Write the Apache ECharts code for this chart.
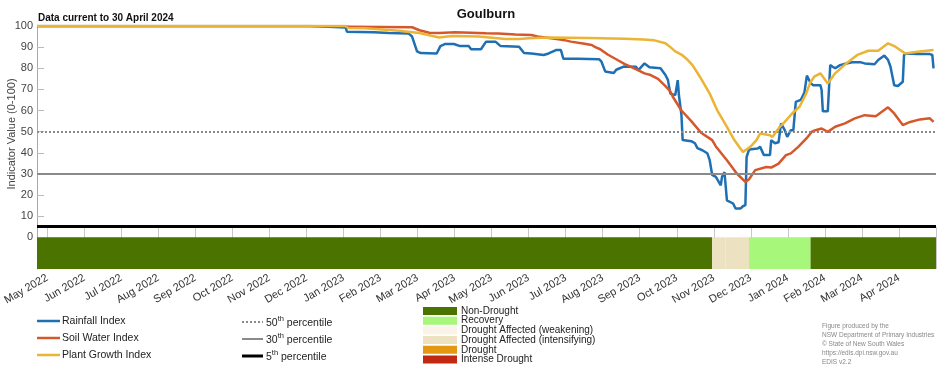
<!DOCTYPE html>
<html>
<head>
<meta charset="utf-8">
<script src="https://cdn.jsdelivr.net/npm/echarts@6/dist/echarts.min.js"></script>
<style>
html,body{margin:0;padding:0;background:#fff;}
#chart{width:952px;height:370px;}
</style>
</head>
<body>
<div id="chart"></div>
<script>
// ---------- DATA ----------
const chartTitle = 'Goulburn';
const subtitle = 'Data current to 30 April 2024';
const startDate = '2022-05-01';
const endDate = '2024-05-01';
const monthLabels = ['May 2022','Jun 2022','Jul 2022','Aug 2022','Sep 2022','Oct 2022','Nov 2022','Dec 2022',
  'Jan 2023','Feb 2023','Mar 2023','Apr 2023','May 2023','Jun 2023','Jul 2023','Aug 2023','Sep 2023','Oct 2023',
  'Nov 2023','Dec 2023','Jan 2024','Feb 2024','Mar 2024','Apr 2024',''];
const yTickLabels = [0,10,20,30,40,50,60,70,80,90,100];

const rainfallIndex = [
['2022-05-01',100],['2022-12-09',100],['2022-12-10',99.3],['2023-01-07',99.3],['2023-01-08',97.3],['2023-01-30',97],
['2023-02-11',96.7],['2023-02-27',96.5],['2023-03-02',95],['2023-03-06',88],['2023-03-09',87.2],['2023-03-22',87],
['2023-03-25',90.5],['2023-03-29',91.5],['2023-04-05',91.5],['2023-04-10',90.5],['2023-04-17',90.5],['2023-04-19',89],
['2023-04-27',89],['2023-05-01',92.5],['2023-05-09',92.5],['2023-05-13',90.5],['2023-05-28',90.2],['2023-06-01',87.2],
['2023-06-07',87],['2023-06-17',86.3],['2023-06-21',87],['2023-06-27',88.6],['2023-07-01',88.6],['2023-07-03',84.5],
['2023-07-15',84.5],['2023-08-01',84.3],['2023-08-03',83.1],['2023-08-06',78.5],['2023-08-13',77.8],['2023-08-15',79.3],
['2023-08-21',80.8],['2023-08-31',80.7],['2023-09-02',79.1],['2023-09-07',82.3],['2023-09-11',80.5],['2023-09-20',80],
['2023-09-24',76.8],['2023-09-26',74.5],['2023-09-28',68],['2023-10-02',67.3],['2023-10-04',74.4],['2023-10-05',67],
['2023-10-07',58],['2023-10-08',46],['2023-10-15',45.5],['2023-10-18',44.5],['2023-10-20',42.2],['2023-10-24',41.2],
['2023-10-28',39.8],['2023-10-30',36.5],['2023-11-01',29.5],['2023-11-04',28.6],['2023-11-08',24.6],['2023-11-09',28.6],
['2023-11-11',30.9],['2023-11-13',17.5],['2023-11-18',16],['2023-11-20',13.6],['2023-11-24',13.6],['2023-11-26',14.7],
['2023-11-28',15.2],['2023-11-29',38],['2023-12-01',41.5],['2023-12-08',42],['2023-12-10',42.8],['2023-12-13',38.9],
['2023-12-18',38.9],['2023-12-19',46],['2023-12-22',44.5],['2023-12-25',45],['2023-12-27',53.9],['2023-12-30',50.7],
['2024-01-01',47.5],['2024-01-04',50.7],['2024-01-06',50.7],['2024-01-08',64.1],['2024-01-12',65],['2024-01-15',68.5],
['2024-01-17',76.5],['2024-01-20',73],['2024-01-22',72],['2024-01-28',72],['2024-01-29',69.7],['2024-01-30',59.6],
['2024-02-03',59.6],['2024-02-05',81.5],['2024-02-07',80.7],['2024-02-09',80],['2024-02-13',81.5],['2024-02-18',82.3],
['2024-02-23',82.8],['2024-03-01',82.8],['2024-03-04',82.3],['2024-03-12',81.9],['2024-03-15',83.9],['2024-03-20',86],
['2024-03-23',84],['2024-03-25',80.7],['2024-03-28',72],['2024-03-31',71.6],['2024-04-04',73.6],['2024-04-05',86.3],
['2024-04-07',87],['2024-04-16',86.7],['2024-04-26',86.7],['2024-04-28',86.3],['2024-04-29',80]
];

const soilWaterIndex = [
['2022-05-01',100],['2023-01-07',100],['2023-01-09',99.6],['2023-03-02',99.4],['2023-03-08',98],['2023-03-16',96.8],
['2023-03-24',96.7],['2023-04-06',97],['2023-05-01',96.6],['2023-05-11',96.5],['2023-05-25',96],['2023-06-07',95.7],
['2023-06-12',95],['2023-06-29',93.7],['2023-07-04',93.3],['2023-07-09',92.6],['2023-07-19',91.7],['2023-07-26',91],
['2023-07-29',90],['2023-08-02',89],['2023-08-08',86.5],['2023-08-16',83.9],['2023-08-22',82],['2023-08-27',80.7],
['2023-09-02',79],['2023-09-07',77.6],['2023-09-12',76.8],['2023-09-18',75],['2023-09-24',71.5],['2023-09-28',69],
['2023-09-30',66.5],['2023-10-07',60],['2023-10-15',55],['2023-10-23',49.5],['2023-11-01',46],['2023-11-04',43],
['2023-11-13',36.5],['2023-11-21',30.2],['2023-11-28',26.2],['2023-12-01',27.5],['2023-12-06',31.8],['2023-12-15',33.3],
['2023-12-19',33],['2023-12-25',34.9],['2023-12-31',38.9],['2024-01-04',39.7],['2024-01-10',42.8],['2024-01-17',47],
['2024-01-21',50],['2024-01-24',50.7],['2024-01-29',51.5],['2024-02-03',49.9],['2024-02-09',52.3],['2024-02-17',53.9],
['2024-02-25',56.3],['2024-03-04',57.8],['2024-03-13',57.3],['2024-03-18',59.4],['2024-03-23',61.5],['2024-03-28',58.6],
['2024-04-04',53.1],['2024-04-10',54.6],['2024-04-18',55.8],['2024-04-26',56.3],['2024-04-29',54.6]
];

const plantGrowthIndex = [
['2022-05-01',100],['2023-01-07',100],['2023-01-09',99],['2023-01-23',98.9],['2023-02-19',97.8],['2023-03-08',96.7],
['2023-03-24',94.6],['2023-04-03',95.3],['2023-04-25',95],['2023-05-17',93.9],['2023-05-28',93.8],['2023-06-05',94.2],
['2023-06-21',94.5],['2023-07-23',94.3],['2023-08-22',94],['2023-09-06',93.6],['2023-09-15',93.2],['2023-09-24',91.8],
['2023-09-28',90],['2023-10-02',88],['2023-10-07',86.5],['2023-10-12',84],['2023-10-16',81.5],['2023-10-22',76],
['2023-10-30',68],['2023-11-05',60.2],['2023-11-13',52.3],['2023-11-19',46],['2023-11-26',40.4],['2023-12-02',42.8],
['2023-12-07',46],['2023-12-10',49.1],['2023-12-18',48.3],['2023-12-20',47.5],['2023-12-26',52.3],['2023-12-30',54.6],
['2024-01-05',58.6],['2024-01-11',61.8],['2024-01-16',67.5],['2024-01-20',73.5],['2024-01-23',76],['2024-01-28',77.6],
['2024-02-03',72.8],['2024-02-09',77.6],['2024-02-18',82.3],['2024-02-27',86.3],['2024-03-07',88.3],['2024-03-15',88.3],
['2024-03-23',91.8],['2024-03-29',90.2],['2024-04-06',87],['2024-04-16',87.8],['2024-04-29',88.6]
];

const percentileValues = [50, 30, 5];

const droughtStarts = ['2022-05-01','2023-11-01','2023-11-12','2023-12-01','2024-01-20'];
const droughtEnds   = ['2023-11-01','2023-11-12','2023-12-01','2024-01-20','2024-05-01'];
const droughtClasses = ['Non-Drought','Drought Affected (intensifying)','Drought Affected (intensifying)','Recovery','Non-Drought'];

const droughtLegend = ['Non-Drought','Recovery','Drought Affected (weakening)','Drought Affected (intensifying)','Drought','Intense Drought'];
const seriesNames = ['Rainfall Index','Soil Water Index','Plant Growth Index'];
const footerLines = ['Figure produced by the','NSW Department of Primary Industries','\u00A9 State of New South Wales','https://edis.dpi.nsw.gov.au','EDIS v2.2'];

// ---------- STYLES ----------
const seriesColors = ['#1f6fb4','#d4582b','#ebb434'];
const droughtColors = {
  'Non-Drought':'#4a7300',
  'Recovery':'#a6f77a',
  'Drought Affected (weakening)':'#fbf3e8',
  'Drought Affected (intensifying)':'#ece2c2',
  'Drought':'#e3980f',
  'Intense Drought':'#c12a10'
};

function ts(s){ const p=s.split('-'); return new Date(+p[0], +p[1]-1, +p[2]).getTime(); }
const toTs = arr => arr.map(d => [ts(d[0]), d[1]]);

const chart = echarts.init(document.getElementById('chart'), null, {renderer:'canvas'});

const gridLeft = 37, gridRight = 16;
const font = "'Liberation Sans', Arial, sans-serif";

const markAreaData = droughtStarts.map((s,i)=>[
  {xAxis: ts(s), yAxis: 0, itemStyle:{color: droughtColors[droughtClasses[i]]}},
  {xAxis: ts(droughtEnds[i]), yAxis: -15}
]);

const pctStyles = [
  {color:'#8a8a8a', width:2, type:[2,2]},
  {color:'#8a8a8a', width:2, type:'solid'},
  {color:'#000000', width:3, type:'solid'}
];

const graphics = [];
graphics.push({type:'text', x:486, y:14, style:{text:chartTitle, font:"bold 13px "+font, fill:'#111', align:'center', verticalAlign:'middle'}});
graphics.push({type:'text', x:38, y:18, style:{text:subtitle, font:"bold 10px "+font, fill:'#111', align:'left', verticalAlign:'middle'}});
graphics.push({type:'text', x:12, y:134, rotation:Math.PI/2, style:{text:'Indicator Value (0-100)', font:"11px "+font, fill:'#444', align:'center', verticalAlign:'middle'}});

// series legend
const legY = [321, 338, 355];
seriesNames.forEach((n,i)=>{
  graphics.push({type:'line', shape:{x1:37,y1:legY[i],x2:60,y2:legY[i]}, style:{stroke:seriesColors[i], lineWidth:2.5}});
  graphics.push({type:'text', x:62, y:legY[i], style:{text:n, font:"10.5px "+font, fill:'#222', align:'left', verticalAlign:'middle'}});
});
// percentile legend
const pctLabels = ['50','30','5'];
percentileValues.forEach((v,i)=>{
  const st = pctStyles[i];
  graphics.push({type:'line', shape:{x1:242,y1:legY[i]+1,x2:263,y2:legY[i]+1}, style:{stroke:st.color, lineWidth:st.width, lineDash: Array.isArray(st.type)?st.type:null}});
  graphics.push({type:'text', x:266, y:legY[i]+1, style:{
    text:'{n|'+pctLabels[i]+'}{s|th}{n| percentile}',
    align:'left', verticalAlign:'middle',
    rich:{ n:{font:"10.5px "+font, fill:'#222', lineHeight:14, verticalAlign:'bottom'},
           s:{font:"7.5px "+font, fill:'#222', lineHeight:14, verticalAlign:'top'} }
  }});
});
// drought legend
droughtLegend.forEach((n,i)=>{
  const y = 311 + i*9.7;
  graphics.push({type:'rect', shape:{x:423,y:y-4,width:34,height:8}, style:{fill:droughtColors[n]}});
  graphics.push({type:'text', x:461, y:y, style:{text:n, font:"10px "+font, fill:'#222', align:'left', verticalAlign:'middle'}});
});
// footer
footerLines.forEach((t,i)=>{
  graphics.push({type:'text', x:822, y:326+i*9, style:{text:t, font:"6.5px "+font, fill:'#888', align:'left', verticalAlign:'middle'}});
});

const option = {
  animation:false,
  backgroundColor:'#fff',
  grid:[
    {left:gridLeft, right:gridRight, top:26, bottom:101},
    {left:gridLeft, right:gridRight, top:227, bottom:101}
  ],
  xAxis:[
    {type:'time', gridIndex:0, min:ts(startDate), max:ts(endDate), show:false},
    {type:'category', gridIndex:1, data:monthLabels, boundaryGap:false,
     axisLine:{show:false}, axisTick:{show:false},
     splitLine:{show:true, lineStyle:{color:'#c8c8c8', width:1}},
     axisLabel:{interval:0, rotate:30, margin:8, fontSize:11, color:'#333', fontFamily:font}}
  ],
  yAxis:[
    {type:'value', gridIndex:0, min:-15, max:100,
     axisLine:{show:true, lineStyle:{color:'#aaa', width:1}},
     axisTick:{show:true, inside:true, length:7, lineStyle:{color:'#bbb'}, customValues:[10,20,30,40,50,60,70,80,90,100]},
     axisLabel:{customValues:yTickLabels, fontSize:11, color:'#444', margin:4, fontFamily:font},
     splitLine:{show:false}},
    {type:'value', gridIndex:1, min:0, max:1, show:false}
  ],
  graphic: graphics,
  series:[
    {type:'line', name:seriesNames[0], xAxisIndex:0, yAxisIndex:0, data:toTs(rainfallIndex), showSymbol:false, symbol:'none',
     lineStyle:{color:seriesColors[0], width:2.5}, z:3,
     markArea:{silent:true, data:markAreaData},
     markLine:{silent:true, symbol:'none', label:{show:false},
       data: percentileValues.map((v,i)=>({yAxis:v, lineStyle:pctStyles[i]}))}},
    {type:'line', name:seriesNames[1], xAxisIndex:0, yAxisIndex:0, data:toTs(soilWaterIndex), showSymbol:false, symbol:'none',
     lineStyle:{color:seriesColors[1], width:2.5}, z:4},
    {type:'line', name:seriesNames[2], xAxisIndex:0, yAxisIndex:0, data:toTs(plantGrowthIndex), showSymbol:false, symbol:'none',
     lineStyle:{color:seriesColors[2], width:2.5}, z:5}
  ]
};
chart.setOption(option);
</script>
</body>
</html>
